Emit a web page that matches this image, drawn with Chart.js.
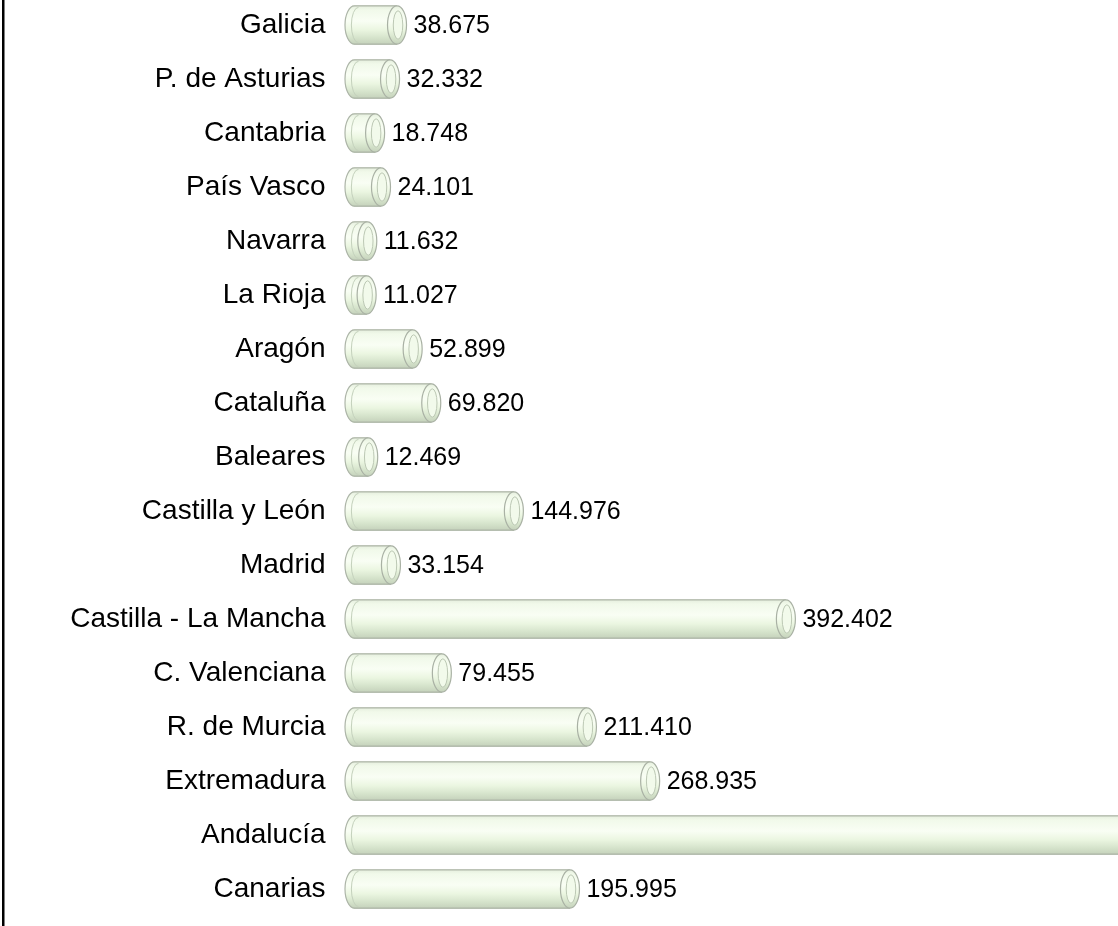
<!DOCTYPE html>
<html>
<head>
<meta charset="utf-8">
<script src="https://cdn.jsdelivr.net/npm/chart.js@4.4.0/dist/chart.umd.min.js"></script>
<style>
  html, body { margin: 0; padding: 0; background: #fff; overflow: hidden; }
  #wrap { position: relative; width: 1118px; height: 926px; overflow: hidden; }
  #chart { position: absolute; left: 0; top: -2px; }
</style>
</head>
<body>
<div id="wrap"><canvas id="chart" width="1118" height="930"></canvas></div>
<script>
// data (Andalucía runs off the right edge, value estimated)
const regions = [
  "Galicia", "P. de Asturias", "Cantabria", "País Vasco", "Navarra", "La Rioja",
  "Aragón", "Cataluña", "Baleares", "Castilla y León", "Madrid",
  "Castilla - La Mancha", "C. Valenciana", "R. de Murcia", "Extremadura",
  "Andalucía", "Canarias"
];
const values = [
  38675, 32332, 18748, 24101, 11632, 11027,
  52899, 69820, 12469, 144976, 33154,
  392402, 79455, 211410, 268935,
  760000, 195995
];
const axisMax = 694500;

const FONT = "'Liberation Sans', Arial, sans-serif";

function fmtThousands(v) {
  return String(v).replace(/\B(?=(\d{3})+(?!\d))/g, ".");
}

function bodyGradient(ctx, top, bottom) {
  const g = ctx.createLinearGradient(0, top, 0, bottom);
  g.addColorStop(0, "#e4eddc");
  g.addColorStop(0.12, "#f1f9ea");
  g.addColorStop(0.4, "#f9fef4");
  g.addColorStop(0.62, "#ebf6e1");
  g.addColorStop(0.82, "#d6e4cc");
  g.addColorStop(1, "#c3d0ba");
  return g;
}

const cylinderPlugin = {
  id: "cylinders",
  afterDatasetsDraw(chart) {
    const ctx = chart.ctx;
    const meta = chart.getDatasetMeta(0);
    meta.data.forEach((bar, i) => {
      const p = bar.getProps(["x", "y", "base", "height"], true);
      const top = p.y - p.height / 2;
      const bot = p.y + p.height / 2;
      const cy = p.y;
      const rx = 9.5;
      const ry = p.height / 2;
      const x0 = p.base;
      const x1 = p.x;
      const grad = bodyGradient(ctx, top, bot);

      ctx.save();
      // body + left rounded end
      ctx.beginPath();
      ctx.moveTo(x0, top);
      ctx.lineTo(x1, top);
      ctx.lineTo(x1, bot);
      ctx.lineTo(x0, bot);
      ctx.ellipse(x0, cy, rx, ry, 0, Math.PI / 2, Math.PI * 1.5);
      ctx.closePath();
      ctx.fillStyle = grad;
      ctx.fill();

      ctx.strokeStyle = "#adb5a8";
      ctx.lineWidth = 1.2;
      ctx.beginPath();
      ctx.moveTo(x1, top + 0.5);
      ctx.lineTo(x0, top + 0.5);
      ctx.ellipse(x0, cy, rx, ry - 0.5, 0, Math.PI * 1.5, Math.PI / 2, true);
      ctx.lineTo(x1, bot - 0.5);
      ctx.stroke();

      // lip on the left end
      ctx.strokeStyle = "#c4d1bc";
      ctx.lineWidth = 1;
      ctx.beginPath();
      ctx.ellipse(x0 + 4, cy, rx * 0.75, ry - 2, 0, Math.PI / 2, Math.PI * 1.5);
      ctx.stroke();

      // right end, seen as an open ring
      ctx.beginPath();
      ctx.ellipse(x1, cy, rx, ry - 0.5, 0, 0, Math.PI * 2);
      ctx.fillStyle = grad;
      ctx.fill();
      ctx.strokeStyle = "#a9b1a4";
      ctx.lineWidth = 1.2;
      ctx.stroke();
      ctx.beginPath();
      ctx.ellipse(x1 + 1, cy, rx * 0.5, ry * 0.72, 0, 0, Math.PI * 2);
      ctx.fillStyle = "#f2faeb";
      ctx.fill();
      ctx.strokeStyle = "#bcc8b4";
      ctx.lineWidth = 1;
      ctx.stroke();

      // value label
      ctx.fillStyle = "#000";
      ctx.font = "25px " + FONT;
      ctx.textAlign = "left";
      ctx.textBaseline = "middle";
      ctx.fillText(fmtThousands(values[i]), x1 + rx + 7, cy + 1);
      ctx.restore();
    });
  },
  afterDraw(chart) {
    const ctx = chart.ctx;
    ctx.save();
    ctx.fillStyle = "#000";
    ctx.fillRect(2, 0, 2.5, chart.height);
    ctx.restore();
  }
};

new Chart(document.getElementById("chart"), {
  type: "bar",
  data: {
    labels: regions,
    datasets: [{
      data: values,
      backgroundColor: "rgba(0,0,0,0)",
      borderWidth: 0,
      barPercentage: 0.73,
      categoryPercentage: 1
    }]
  },
  options: {
    indexAxis: "y",
    responsive: false,
    animation: false,
    devicePixelRatio: 1,
    layout: { padding: { left: 0, right: 0, top: 0, bottom: 12 } },
    plugins: {
      legend: { display: false },
      tooltip: { enabled: false }
    },
    scales: {
      x: {
        display: false,
        min: 0,
        max: axisMax
      },
      y: {
        grid: { display: false, drawTicks: false },
        border: { display: false },
        ticks: {
          color: "#000",
          padding: 29,
          font: { size: 28, family: FONT }
        },
        afterFit(scale) {
          scale.width = 354.5;
          // tick padding would otherwise push the plot down from the top
          scale.paddingTop = 0;
          scale.paddingBottom = 0;
        }
      }
    }
  },
  plugins: [cylinderPlugin]
});
</script>
</body>
</html>
